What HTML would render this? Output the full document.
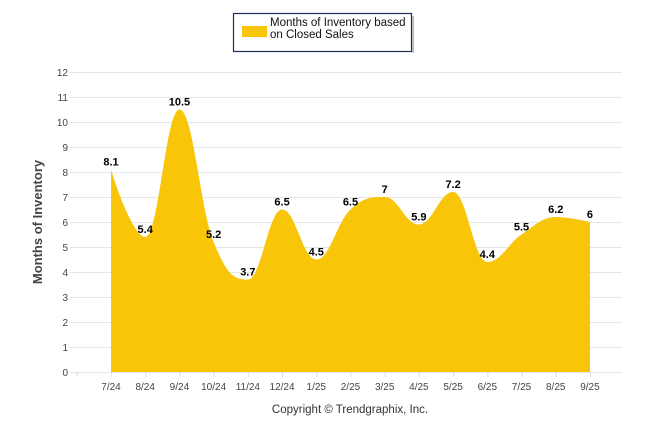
<!DOCTYPE html>
<html><head><meta charset="utf-8"><style>
body{margin:0;background:#fff;font-family:"Liberation Sans",Arial,sans-serif}
svg text{font-family:"Liberation Sans",Arial,sans-serif}
</style></head><body>
<svg id="c" width="646" height="434">
<g id="grid"></g>
<path id="area" fill="#f8c508"></path>
<g id="labels"></g>
<g id="xt"></g>
<g id="yt"></g>
<text x="42" y="222" transform="rotate(-90 42 222)" text-anchor="middle" font-size="13" font-weight="bold" fill="#444">Months of Inventory</text>
<g>
<rect x="233.5" y="13.5" width="178" height="38" fill="#fff" stroke="#1f2f5a" stroke-width="1.2"></rect>
<rect x="412" y="16" width="2" height="37" fill="#bbb"></rect>
<rect x="242" y="26" width="25" height="11" fill="#f8c508"></rect>
<text x="270" y="26" font-size="11.5" fill="#111">Months of Inventory based</text>
<text x="270" y="38" font-size="11.5" fill="#111">on Closed Sales</text>
</g>
<text x="350" y="413" text-anchor="middle" font-size="11.5" fill="#333">Copyright © Trendgraphix, Inc.</text>
</svg>
<script>
const categories=["7/24","8/24","9/24","10/24","11/24","12/24","1/25","2/25","3/25","4/25","5/25","6/25","7/25","8/25","9/25"];
const values=[8.1,5.4,10.5,5.2,3.7,6.5,4.5,6.5,7,5.9,7.2,4.4,5.5,6.2,6];
const yTicks=[0,1,2,3,4,5,6,7,8,9,10,11,12];
const NS="http://www.w3.org/2000/svg";
const x0=111,step=34.21,yb=372,ppu=25;
const X=i=>x0+i*step, Y=v=>yb-v*ppu;
function mk(t,a,p){const e=document.createElementNS(NS,t);for(const k in a)e.setAttribute(k,a[k]);p.appendChild(e);return e;}
const g=document.getElementById('grid'),yt=document.getElementById('yt'),xt=document.getElementById('xt'),lb=document.getElementById('labels');
yTicks.forEach(v=>{
 const l=mk('line',{x1:70,x2:622,y1:Y(v)+.5,y2:Y(v)+.5,stroke:'#e6e6e6'},g);
 
 
 const t=mk('text',{x:68,y:Y(v)+4,'text-anchor':'end','font-size':10,fill:'#444'},yt);t.textContent=v;
 
 
});
for(let k=0;k<=16;k++){const tx=X(0)-step+k*step;if(tx>623)break;
 const l=mk('line',{x1:tx+.5,x2:tx+.5,y1:372,y2:377,stroke:'#ddd'},xt);
 
 }
categories.forEach((c,i)=>{const t=mk('text',{x:X(i),y:390,'text-anchor':'middle','font-size':10,fill:'#444'},xt);t.textContent=c;
 
 });
const pts=values.map((v,i)=>[X(i),Y(v)]);
let d=`M${pts[0][0]},${yb}L${pts[0][0]},${pts[0][1]}`;
function ctrl(i){const s=1.5,den=s+1;const p=pts[i],a=pts[i-1],b=pts[i+1];
 let lx=(s*p[0]+a[0])/den,ly=(s*p[1]+a[1])/den,rx=(s*p[0]+b[0])/den,ry=(s*p[1]+b[1])/den;
 let corr=0;if(rx!==lx)corr=((ry-ly)*(rx-p[0]))/(rx-lx)+p[1]-ry;
 ly+=corr;ry+=corr;
 if(ly>a[1]&&ly>p[1]){ly=Math.max(a[1],p[1]);ry=2*p[1]-ly;}else if(ly<a[1]&&ly<p[1]){ly=Math.min(a[1],p[1]);ry=2*p[1]-ly;}
 if(ry>b[1]&&ry>p[1]){ry=Math.max(b[1],p[1]);ly=2*p[1]-ry;}else if(ry<b[1]&&ry<p[1]){ry=Math.min(b[1],p[1]);ly=2*p[1]-ry;}
 return [[lx,ly],[rx,ry]];}
for(let i=1;i<pts.length;i++){
 const c1=i-1>0?ctrl(i-1)[1]:pts[i-1];
 const c2=i<pts.length-1?ctrl(i)[0]:pts[i];
 d+=`C${c1[0]},${c1[1]} ${c2[0]},${c2[1]} ${pts[i][0]},${pts[i][1]}`;}
d+=`L${pts[pts.length-1][0]},${yb}Z`;
document.getElementById('area').setAttribute('d',d);
values.forEach((v,i)=>{const t=mk('text',{x:X(i),y:Y(v)-4,'text-anchor':'middle','font-size':11,'font-weight':'bold',fill:'#000'},lb);t.textContent=v;
 
 });
</script>
</body></html>
